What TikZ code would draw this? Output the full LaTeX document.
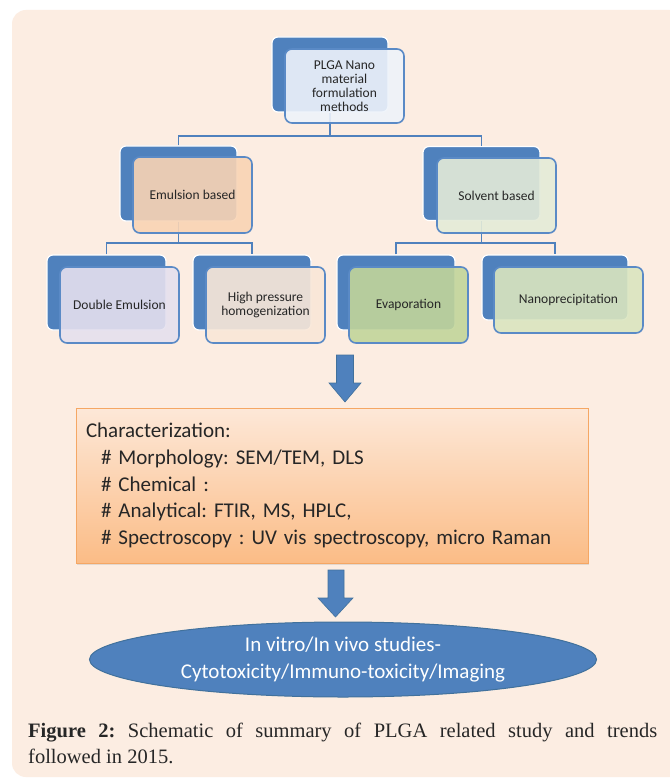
\documentclass[tikz,border=0pt]{standalone}
\usepackage{fontspec}
\setmainfont{Carlito}
\newfontfamily\capfont{Liberation Serif}
\usetikzlibrary{shapes.geometric,shadows}
\definecolor{bluebox}{HTML}{4F81BD}
\definecolor{frontline}{HTML}{5A8AC6}
\definecolor{panel}{HTML}{FCEDE2}
\definecolor{txt}{HTML}{262626}
\definecolor{ftop}{HTML}{EEF3FA}
\definecolor{femul}{HTML}{F9D4B4}
\definecolor{fsolv}{HTML}{E4EBD8}
\definecolor{fdouble}{HTML}{E5E0EE}
\definecolor{fhigh}{HTML}{F9E7D8}
\definecolor{fevap}{HTML}{C2D59A}
\definecolor{fnano}{HTML}{DAE5BF}
\definecolor{chartop}{HTML}{FDE8D8}
\definecolor{charbot}{HTML}{FBBC86}
\definecolor{charline}{HTML}{F5A764}
\definecolor{ellline}{HTML}{41719C}
\begin{document}
\frenchspacing
\begin{tikzpicture}[x=1pt,y=-1pt,
  backbox/.style={draw=white, line width=1.2, fill=bluebox, rounded corners=6},
  frontbox/.style={draw=frontline, line width=1.6, fill opacity=0.9, text opacity=1,
    rounded corners=7, font=\fontsize{13.5}{14}\selectfont, text=txt, align=center},
  connector/.style={draw=bluebox, line width=1.5},
  blockarrow/.style={fill=bluebox, draw=ellline, line width=0.6}
]
\useasboundingbox (0,0) rectangle (669,778);
\fill[white] (0,0) rectangle (669,778);
\fill[panel, rounded corners=14] (12,10) rectangle (690,777);

% back boxes
\node[backbox, minimum width=116, minimum height=75] (topb) at (330,74.5) {};
\node[backbox, minimum width=117, minimum height=75] (emb) at (178.5,183.5) {};
\node[backbox, minimum width=117, minimum height=74] (solb) at (481.5,183.5) {};
\node[backbox, minimum width=119, minimum height=75] (deb) at (106.5,292.5) {};
\node[backbox, minimum width=118, minimum height=75] (hpb) at (252,292.5) {};
\node[backbox, minimum width=118, minimum height=75] (evb) at (396,292.5) {};
\node[backbox, minimum width=146, minimum height=65] (npb) at (555,287.5) {};

% junctions
\coordinate (j1) at (330,136);
\coordinate (j2) at (178.5,243);
\coordinate (j3) at (481.5,243);

% connectors
\draw[connector] (topb.south) -- (j1);
\draw[connector] (emb.north) |- (j1) -| (solb.north);
\draw[connector] (emb.south) -- (j2);
\draw[connector] (deb.north) |- (j2) -| (hpb.north);
\draw[connector] (solb.south) -- (j3);
\draw[connector] (evb.north) |- (j3) -| (npb.north);

% front boxes
\node[frontbox, fill=ftop, minimum width=119, minimum height=74] (top) at (344.5,86)
  {PLGA Nano\\material\\formulation\\methods};
\node[frontbox, fill=femul, minimum width=119, minimum height=76] (em) at (192.5,195) {Emulsion based};
\node[frontbox, fill=fsolv, minimum width=119, minimum height=75] (sol) at (496.5,195.5) {Solvent based};
\node[frontbox, fill=fdouble, minimum width=119, minimum height=76] (de) at (119.5,305) {Double Emulsion};
\node[frontbox, fill=fhigh, minimum width=119, minimum height=76] (hp) at (265.5,305) {High pressure\\homogenization};
\node[frontbox, fill=fevap, minimum width=119, minimum height=76] (ev) at (408.5,305) {Evaporation};
\node[frontbox, fill=fnano, minimum width=149, minimum height=66] (np) at (568.5,300) {Nanoprecipitation};

% block arrow 1
\draw[blockarrow] (336.5,355) -- (353.5,355) -- (353.5,383) -- (361,383) -- (345,402)
  -- (329,383) -- (336.5,383) -- cycle;

% characterization box
\node[draw=charline, line width=1, top color=chartop, bottom color=charbot,
  drop shadow={opacity=0.2, shadow xshift=1pt, shadow yshift=-2pt},
  minimum width=512, minimum height=155, text width=492, inner xsep=10, align=left,
  font=\fontsize{21}{26.7}\selectfont, text=txt] (char) at (332,485.5)
  {Characterization:\\
   \hspace*{15pt}\# Morphology: SEM/TEM, DLS\\
   \hspace*{15pt}\# Chemical :\\
   \hspace*{15pt}\# Analytical: FTIR, MS, HPLC,\\
   \hspace*{15pt}\# Spectroscopy : UV vis spectroscopy, micro Raman};

% block arrow 2
\draw[blockarrow] (328,570) -- (344,570) -- (344,598) -- (353,598) -- (335.5,617)
  -- (318,598) -- (328,598) -- cycle;

% ellipse
\node[ellipse, fill=bluebox, draw=ellline, line width=1, minimum width=507, minimum height=75,
  text=white, align=center, font=\fontsize{21}{27}\selectfont, inner sep=0] (vivo) at (343,659.5)
  {In vitro/In vivo studies-\\Cytotoxicity/Immuno-toxicity/Imaging};

% caption
\node[anchor=base west, inner sep=0, text=txt, font=\capfont\fontsize{20.5}{26}\selectfont] (cap1) at (28,737)
  {\makebox[629pt][s]{\textbf{Figure 2:} Schematic of summary of PLGA related study and trends}};
\node[anchor=base west, inner sep=0, text=txt, font=\capfont\fontsize{20.5}{26}\selectfont] (cap2) at (28,763)
  {followed in 2015.};
\end{tikzpicture}
\end{document}
